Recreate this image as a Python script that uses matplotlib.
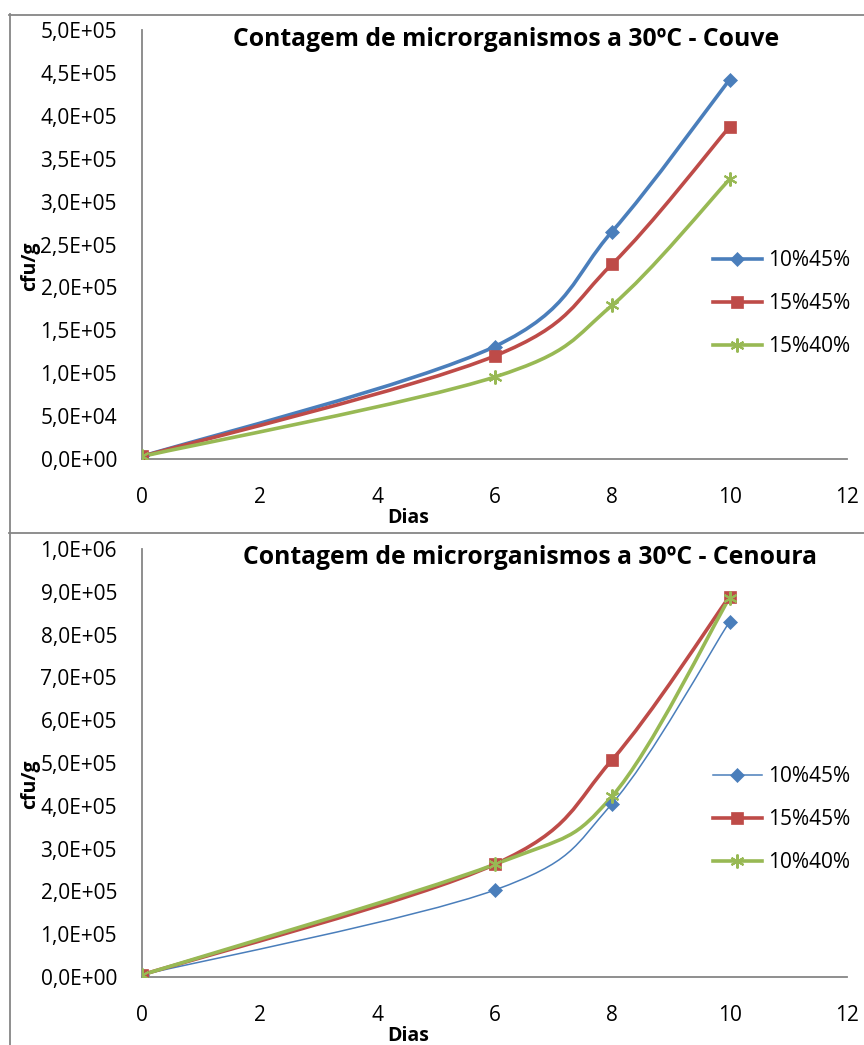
import numpy as np
import matplotlib
matplotlib.use("Agg")
import matplotlib.pyplot as plt
from matplotlib.path import Path
from matplotlib.patches import PathPatch
from matplotlib.lines import Line2D
from matplotlib.ticker import FixedLocator, FuncFormatter

plt.rcParams['font.family'] = ['Open Sans', 'DejaVu Sans']

dias = [0, 6, 8, 10]
x_ticks = [0, 2, 4, 6, 8, 10, 12]

# Couve
couve_labels = ["10%45%", "15%45%", "15%40%"]
couve_10_45 = [3.0e3, 1.31e5, 2.65e5, 4.42e5]
couve_15_45 = [3.0e3, 1.20e5, 2.27e5, 3.87e5]
couve_15_40 = [3.0e3, 0.955e5, 1.79e5, 3.26e5]
couve_yticks = [0, 5e4, 1e5, 1.5e5, 2e5, 2.5e5, 3e5, 3.5e5, 4e5, 4.5e5, 5e5]

# Cenoura
cenoura_labels = ["10%45%", "15%45%", "10%40%"]
cenoura_10_45 = [5.0e3, 2.03e5, 4.05e5, 8.30e5]
cenoura_15_45 = [5.0e3, 2.63e5, 5.07e5, 8.89e5]
cenoura_10_40 = [5.0e3, 2.63e5, 4.22e5, 8.86e5]
cenoura_yticks = [0, 1e5, 2e5, 3e5, 4e5, 5e5, 6e5, 7e5, 8e5, 9e5, 1e6]

blue = "#4A7EBB"
red = "#BE4B48"
green = "#98B954"
gray = "#868686"


def smooth_path(x, y):
    # excel-like smoothed line: bezier segments through the points
    pts = np.column_stack([x, y]).astype(float)
    ext = np.vstack([pts[0], pts, pts[-1]])
    verts = [pts[0]]
    codes = [Path.MOVETO]
    for i in range(len(pts) - 1):
        p0, p1, p2, p3 = ext[i], ext[i + 1], ext[i + 2], ext[i + 3]
        verts += [p1 + (p2 - p0) / 6, p2 - (p3 - p1) / 6, p2]
        codes += [Path.CURVE4] * 3
    return Path(verts, codes)


def sci_fmt(v, pos):
    return f"{v:.1E}".replace(".", ",")


def draw_chart(ax, title, labels, series, widths, ylim, yticks, title_xy, leg_y):
    colors = [blue, red, green]
    markers = ["D", "s", (6, 2, 0)]
    msizes = [7, 9, 10]
    handles = []
    for vals, lab, c, m, ms, lw in zip(series, labels, colors, markers, msizes, widths):
        ax.add_patch(PathPatch(smooth_path(dias, vals), fill=False, edgecolor=c,
                               lw=lw, transform=ax.transData, zorder=3))
        mew = 1.5 if m == (6, 2, 0) else 0.5
        ax.plot(dias, vals, ls="none", marker=m, ms=ms, color=c, mec=c, mew=mew, zorder=4)
        handles.append(Line2D([], [], color=c, lw=lw, marker=m, ms=ms, mec=c, mew=mew))
    ax.set_xlim(0, 12)
    ax.set_ylim(*ylim)
    ax.xaxis.set_major_locator(FixedLocator(x_ticks))
    ax.yaxis.set_major_locator(FixedLocator(yticks))
    ax.yaxis.set_major_formatter(FuncFormatter(sci_fmt))
    ax.tick_params(length=0, labelsize=15)
    ax.tick_params(axis="x", pad=20)
    ax.tick_params(axis="y", pad=18)
    for s in ["top", "right"]:
        ax.spines[s].set_visible(False)
    for s in ["left", "bottom"]:
        ax.spines[s].set_color(gray)
        ax.spines[s].set_linewidth(1.3)
    ax.set_xlabel("Dias", fontsize=14, fontweight="bold", va="center")
    ax.xaxis.set_label_coords((408 - 142) / 705, -0.137)
    ax.set_ylabel("cfu/g", fontsize=14, fontweight="bold", va="center")
    ax.yaxis.set_label_coords(-0.158, 0.45)
    ax.text(title_xy[0], title_xy[1], title, transform=ax.transAxes, ha="center",
            va="center", fontsize=17.8, fontweight="bold")
    ax.legend(handles=handles, labels=labels, loc="center left",
              bbox_to_anchor=(0.783, leg_y), frameon=False, fontsize=15,
              handlelength=2.35, handletextpad=0.3, labelspacing=1.05)


fig = plt.figure(figsize=(8.64, 10.45), dpi=100)
W, H = 864, 1045

ax1 = fig.add_axes([142 / W, 1 - 459 / H, 705 / W, 429 / H])
draw_chart(ax1, "Contagem de microrganismos a 30ºC - Couve", couve_labels,
           [couve_10_45, couve_15_45, couve_15_40], [2.6, 2.6, 2.6],
           (0, 5e5), couve_yticks, (0.516, 0.977), 0.362)

ax2 = fig.add_axes([142 / W, 1 - 977 / H, 705 / W, 428 / H])
draw_chart(ax2, "Contagem de microrganismos a 30ºC - Cenoura", cenoura_labels,
           [cenoura_10_45, cenoura_15_45, cenoura_10_40], [1.1, 2.6, 2.6],
           (0, 1e6), cenoura_yticks, (0.55, 0.981), 0.368)

# chart frames
for xs, ys in [([9.5, 9.5], [14, 1045]), ([9, 864], [14.5, 14.5]), ([9, 864], [532.5, 532.5])]:
    fig.add_artist(Line2D([x / W for x in xs], [1 - y / H for y in ys], color=gray, lw=1.3))

fig.savefig("out.png", dpi=100)
